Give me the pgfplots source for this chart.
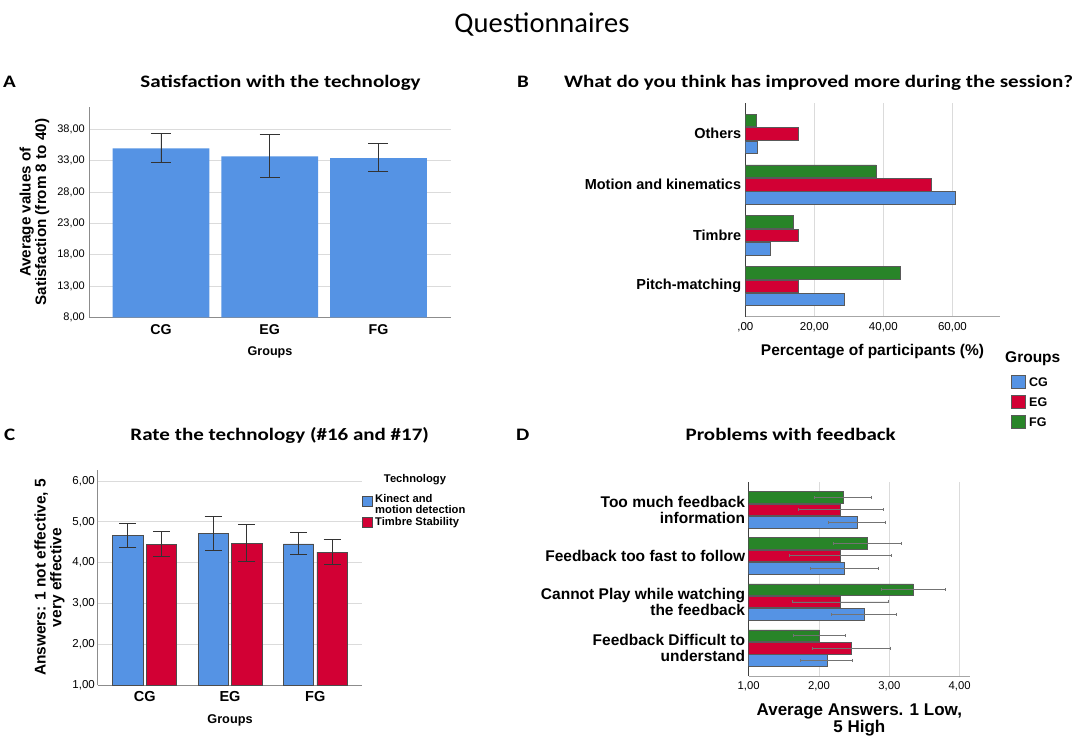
\documentclass[border=0pt]{standalone}
\usepackage{fontspec}
\setmainfont{Liberation Sans}
\newfontfamily\titlefont{Carlito}
\usepackage{graphicx}
\usepackage{pgfplots}
\pgfplotsset{compat=1.18}
\definecolor{cgblue}{RGB}{85,147,228}
\definecolor{egred}{RGB}{210,0,52}
\definecolor{fggreen}{RGB}{40,132,40}
\newcommand{\ttl}{\titlefont\bfseries\fontsize{17.5}{18}\selectfont}
\newcommand{\fsz}[2]{\fontsize{#1}{#2}\selectfont}
\pgfplotsset{
  spss/.style={
    scale only axis,
    axis x line*=bottom, axis y line*=left,
    axis line style={-, black!45, line width=0.8pt},
    major tick length=0pt,
    grid style={black!14, line width=0.9pt},
  }
}
\begin{document}
\begin{tikzpicture}
\path[use as bounding box] (0pt,-743pt) rectangle (1084pt,0pt);

% main title
\node[anchor=center] at (542pt,-25pt) {\titlefont\fsz{28.5}{30}Questionnaires};

% panel titles
\node[anchor=base west, inner sep=0pt] at (3pt,-87.5pt) {\scalebox{1.2}[1]{\ttl A}};
\node[anchor=base, inner sep=0pt] at (280.5pt,-87.5pt) {\scalebox{1.2}[1]{\ttl Satisfaction with the technology}};
\node[anchor=base west, inner sep=0pt] at (517pt,-87.5pt) {\scalebox{1.2}[1]{\ttl B}};
\node[anchor=base, inner sep=0pt] at (818.5pt,-87.5pt) {\scalebox{1.2}[1]{\ttl What do you think has improved more during the session?}};
\node[anchor=base west, inner sep=0pt] at (4pt,-440pt) {\scalebox{1.2}[1]{\ttl C}};
\node[anchor=base, inner sep=0pt] at (279.7pt,-440pt) {\scalebox{1.2}[1]{\ttl Rate the technology (\#16 and \#17)}};
\node[anchor=base west, inner sep=0pt] at (516pt,-440.7pt) {\scalebox{1.2}[1]{\ttl D}};
\node[anchor=base, inner sep=0pt] at (790.7pt,-440.7pt) {\scalebox{1.2}[1]{\ttl Problems with feedback}};

% ---------------- Panel A ----------------
\begin{axis}[spss,
  at={(89pt,-317.3pt)}, anchor=south west,
  width=362pt, height=210.3pt,
  xmin=-0.662, xmax=2.667, ymin=8, ymax=41.56,
  xtick={0,1,2}, xticklabels={CG,EG,FG},
  ytick={8,13,18,23,28,33,38},
  yticklabels={{8,00},{13,00},{18,00},{23,00},{28,00},{33,00},{38,00}},
  ymajorgrids,
  xticklabel style={font=\bfseries\fsz{14.2}{14.2}, anchor=center, yshift=-12pt},
  yticklabel style={font=\fsz{11}{11}, anchor=east, inner sep=0pt, xshift=-4pt},
  xlabel={Groups},
  xlabel style={font=\bfseries\fsz{12.6}{12.6}, at={(axis description cs:0.5,-0.168)}, anchor=center},
  ylabel={Average values of\\Satisfaction (from 8 to 40)},
  ylabel style={font=\bfseries\fsz{15.2}{15.6}, align=center, at={(axis description cs:-0.1506,0.5)}, anchor=center},
]
\addplot[ybar, bar width=96.7pt, bar shift=0pt, fill=cgblue, draw=none,
  error bars/.cd, y dir=both, y explicit,
  error bar style={black!80, line width=0.8pt},
  error mark options={rotate=90, black!80, line width=0.8pt, mark size=10pt}]
  coordinates {(0,34.95) += (0,2.40) -= (0,2.23)
               (1,33.68) += (0,3.44) -= (0,3.30)
               (2,33.40) += (0,2.40) -= (0,2.12)};
\end{axis}

% ---------------- Panel B ----------------
\begin{axis}[spss,
  at={(745.3pt,-316.7pt)}, anchor=south west,
  width=254.4pt, height=213.4pt,
  xmin=0, xmax=73.7, ymin=-0.605, ymax=3.601,
  x axis line style={black!35},
  y axis line style={black!75},
  xtick={0,20,40,60}, xticklabels={{,00},{20,00},{40,00},{60,00}},
  ytick={0,1,2,3}, yticklabels={Pitch-matching,Timbre,Motion and kinematics,Others},
  xmajorgrids,
  xticklabel style={font=\fsz{11.5}{11.5}, anchor=center, yshift=-10.6pt},
  yticklabel style={font=\bfseries\fsz{14.5}{14.5}, anchor=east, inner sep=0pt, xshift=-4pt},
  xlabel={Percentage of participants (\%)},
  xlabel style={font=\bfseries\fsz{15.5}{15.5}, at={(axis description cs:0.5,-0.161)}, anchor=center},
]
\addplot[xbar, bar width=12.5pt, bar shift=-13.3pt, fill=cgblue, draw=black!65, line width=0.5pt]
  coordinates {(28.57,0) (7.14,1) (60.71,2) (3.57,3)};
\addplot[xbar, bar width=12.5pt, bar shift=0pt, fill=egred, draw=black!65, line width=0.5pt]
  coordinates {(15.38,0) (15.38,1) (53.85,2) (15.38,3)};
\addplot[xbar, bar width=12.5pt, bar shift=13.3pt, fill=fggreen, draw=black!65, line width=0.5pt]
  coordinates {(44.83,0) (13.79,1) (37.93,2) (3.30,3)};
\end{axis}

% legend B
\node[anchor=west, inner sep=0pt, font=\bfseries\fsz{15.5}{15.5}] at (1005pt,-359pt) {Groups};
\filldraw[fill=cgblue, draw=black!65, line width=0.5pt] (1011.7pt,-375pt) rectangle (1025pt,-388.3pt);
\node[anchor=west, inner sep=0pt, font=\bfseries\fsz{12.5}{12.5}] at (1029pt,-381.7pt) {CG};
\filldraw[fill=egred, draw=black!65, line width=0.5pt] (1011.7pt,-395pt) rectangle (1025pt,-408.3pt);
\node[anchor=west, inner sep=0pt, font=\bfseries\fsz{12.5}{12.5}] at (1029pt,-401.7pt) {EG};
\filldraw[fill=fggreen, draw=black!65, line width=0.5pt] (1011.7pt,-415pt) rectangle (1025pt,-428.3pt);
\node[anchor=west, inner sep=0pt, font=\bfseries\fsz{12.5}{12.5}] at (1029pt,-421.7pt) {FG};

% ---------------- Panel C ----------------
\begin{axis}[spss,
  at={(97.7pt,-685pt)}, anchor=south west,
  width=264.6pt, height=215pt,
  xmin=-0.551, xmax=2.551, ymin=1, ymax=6.27,
  xtick={0,1,2}, xticklabels={CG,EG,FG},
  ytick={1,2,3,4,5,6},
  yticklabels={{1,00},{2,00},{3,00},{4,00},{5,00},{6,00}},
  ymajorgrids,
  xticklabel style={font=\bfseries\fsz{14.5}{14.5}, anchor=center, yshift=-11.7pt},
  yticklabel style={font=\fsz{11.5}{11.5}, anchor=east, inner sep=0pt, xshift=-2.7pt},
  xlabel={Groups},
  xlabel style={font=\bfseries\fsz{12.7}{12.7}, at={(axis description cs:0.5,-0.163)}, anchor=center},
  ylabel={Answers: 1 not effective, 5\\very effective},
  ylabel style={font=\bfseries\fsz{15.5}{15.6}, align=center, at={(axis description cs:-0.182,0.5)}, anchor=center},
]
\addplot[ybar, bar width=30.3pt, bar shift=0pt, fill=cgblue, draw=black!70, line width=0.6pt,
  error bars/.cd, y dir=both, y explicit,
  error bar style={black!80, line width=0.8pt},
  error mark options={rotate=90, black!80, line width=0.8pt, mark size=8.5pt}]
  coordinates {(-0.197,4.66) += (0,0.29) -= (0,0.28)
               (0.803,4.71) += (0,0.42) -= (0,0.40)
               (1.803,4.46) += (0,0.29) -= (0,0.27)};
\addplot[ybar, bar width=30.3pt, bar shift=0pt, fill=egred, draw=black!70, line width=0.6pt,
  error bars/.cd, y dir=both, y explicit,
  error bar style={black!80, line width=0.8pt},
  error mark options={rotate=90, black!80, line width=0.8pt, mark size=8.5pt}]
  coordinates {(0.197,4.45) += (0,0.32) -= (0,0.31)
               (1.197,4.48) += (0,0.46) -= (0,0.46)
               (2.197,4.26) += (0,0.31) -= (0,0.31)};
\end{axis}

% legend C
\node[anchor=center, inner sep=0pt, font=\bfseries\fsz{11.2}{11.2}] at (415pt,-480pt) {Technology};
\filldraw[fill=cgblue, draw=black!70, line width=0.5pt] (362.7pt,-496.7pt) rectangle (372.7pt,-506.7pt);
\node[anchor=north west, inner sep=0pt, align=left, font=\bfseries\fsz{11.2}{11.3}] at (375pt,-493.7pt) {Kinect and\\motion detection};
\filldraw[fill=egred, draw=black!70, line width=0.5pt] (362.7pt,-517.7pt) rectangle (372.7pt,-527.3pt);
\node[anchor=west, inner sep=0pt, font=\bfseries\fsz{11.2}{11.2}] at (375pt,-522.5pt) {Timbre Stability};

% ---------------- Panel D ----------------
\begin{axis}[spss,
  at={(748.7pt,-676pt)}, anchor=south west,
  width=221.3pt, height=194.3pt,
  xmin=1, xmax=4.147, ymin=-0.607, ymax=3.607,
  x axis line style={black!35},
  y axis line style={black!75},
  xtick={1,2,3,4}, xticklabels={{1,00},{2,00},{3,00},{4,00}},
  ytick={0,1,2,3},
  yticklabels={{Feedback Difficult to\\understand},{Cannot Play while watching\\the feedback},{Feedback too fast to follow},{Too much feedback\\information}},
  xmajorgrids,
  xticklabel style={font=\fsz{11.3}{11.3}, anchor=center, yshift=-10.7pt},
  yticklabel style={font=\bfseries\fsz{15.5}{15.7}, align=right, anchor=east, inner sep=0pt, xshift=-3.4pt},
  xlabel={Average Answers. 1 Low,\\5 High},
  xlabel style={font=\bfseries\fsz{17}{16.7}, align=center, at={(axis description cs:0.5,-0.2265)}, anchor=center},
]
\addplot[xbar, bar width=11.5pt, bar shift=0pt, fill=cgblue, draw=black!65, line width=0.5pt,
  error bars/.cd, x dir=both, x explicit,
  error bar style={black!55, line width=0.7pt},
  error mark options={rotate=90, black!55, line width=0.7pt, mark size=1.5pt}]
  coordinates {(2.11,-0.269) += (0.37,0) -= (0.38,0)
               (2.64,0.731) += (0.46,0) -= (0.47,0)
               (2.36,1.731) += (0.48,0) -= (0.49,0)
               (2.54,2.731) += (0.40,0) -= (0.41,0)};
\addplot[xbar, bar width=11.5pt, bar shift=0pt, fill=egred, draw=black!65, line width=0.5pt,
  error bars/.cd, x dir=both, x explicit,
  error bar style={black!55, line width=0.7pt},
  error mark options={rotate=90, black!55, line width=0.7pt, mark size=1.5pt}]
  coordinates {(2.46,0) += (0.56,0) -= (0.56,0)
               (2.30,1) += (0.69,0) -= (0.68,0)
               (2.30,2) += (0.73,0) -= (0.72,0)
               (2.30,3) += (0.61,0) -= (0.59,0)};
\addplot[xbar, bar width=11.5pt, bar shift=0pt, fill=fggreen, draw=black!65, line width=0.5pt,
  error bars/.cd, x dir=both, x explicit,
  error bar style={black!55, line width=0.7pt},
  error mark options={rotate=90, black!55, line width=0.7pt, mark size=1.5pt}]
  coordinates {(2.00,0.269) += (0.37,0) -= (0.37,0)
               (3.34,1.269) += (0.45,0) -= (0.46,0)
               (2.69,2.269) += (0.48,0) -= (0.48,0)
               (2.35,3.269) += (0.39,0) -= (0.41,0)};
\end{axis}
\end{tikzpicture}
\end{document}
